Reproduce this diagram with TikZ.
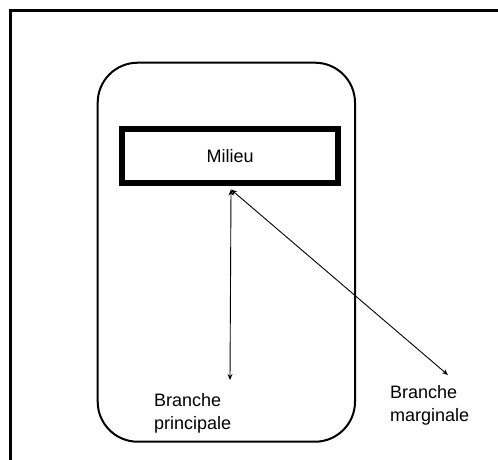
\documentclass[tikz,border=0pt]{standalone}
\usepackage{fontspec}
\setmainfont{Liberation Sans}
\usetikzlibrary{arrows.meta}
\begin{document}
\begin{tikzpicture}[x=1pt,y=-1pt,
  frame/.style={line width=2.7pt},
  panel/.style={line width=2pt, rounded corners=40pt},
  milieubox/.style={draw, line width=6pt, minimum width=216pt, minimum height=54pt, inner sep=0pt, font=\fontsize{18pt}{22pt}\selectfont},
  label/.style={inner sep=0pt, align=left, anchor=north west, font=\fontsize{18pt}{23pt}\selectfont},
  link/.style={line width=0.9pt, {Stealth[length=6pt,width=5pt]}-{Stealth[length=6pt,width=5pt]}}
]
\useasboundingbox (0,0) rectangle (498,459);
% outer frame (open to the right and bottom)
\draw[frame] (10.5,470) -- (10.5,10.7) -- (510,10.7);
% rounded panel
\draw[panel] (97.7,62.7) rectangle (355,441.7);
% Milieu box
\node[milieubox] (milieu) at (230.2,156.4) {Milieu};
% labels
\node[label] (bp) at (154,393) {Branche\\principale};
\node[label] (bm) at (390,385) {Branche\\marginale};
% connector ends
\coordinate (top) at (231,189.5);
\coordinate (bpEnd) at (230,380);
\coordinate (bmEnd) at (448,375);
\draw[link] (top) -- (bpEnd);
\draw[link] (top) -- (bmEnd);
\end{tikzpicture}
\end{document}
